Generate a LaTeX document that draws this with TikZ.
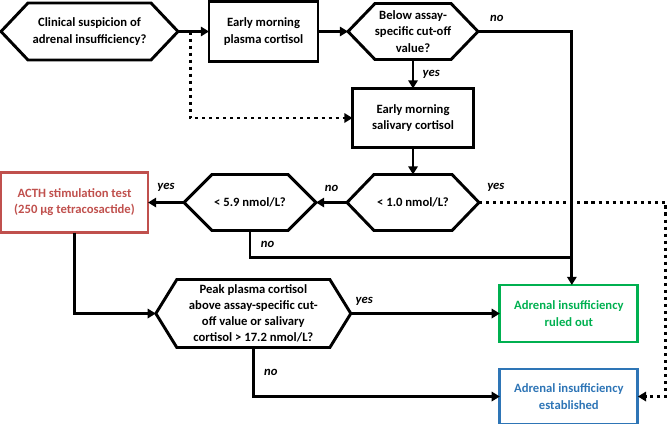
\documentclass[tikz,border=0pt]{standalone}
\usepackage{fontspec}
\setmainfont{Carlito}
\usetikzlibrary{arrows.meta, positioning, calc}

\definecolor{acthred}{HTML}{C0504D}
\definecolor{outgreen}{HTML}{00B050}
\definecolor{estblue}{HTML}{2E75B6}

% hexagonal decision frame round a node: #1 node name, #2 bevel width
\newcommand{\hexframe}[2]{%
  \draw[frame] (#1.west) -- ([xshift=#2]#1.north west) -- ([xshift=-#2]#1.north east)
    -- (#1.east) -- ([xshift=-#2]#1.south east) -- ([xshift=#2]#1.south west) -- cycle;}

\begin{document}
\begin{tikzpicture}[
    x=0.03cm, y=-0.03cm,
    font=\fontsize{10.8}{13.8}\selectfont\bfseries,
    hexq/.style={align=center, inner sep=0pt, outer sep=0pt, minimum height=1.68cm},
    block/.style={rectangle, draw, line width=2.5pt, align=center, inner sep=0pt, outer sep=0pt, minimum height=1.8cm},
    frame/.style={line width=2.5pt, line join=miter},
    link/.style={line width=2.5pt},
    arrow/.style={link, -{Triangle[length=7pt, width=8pt]}},
    dotarrow/.style={arrow, dash pattern=on 2.6pt off 3.4pt},
    lbl/.style={font=\fontsize{10.8}{13.8}\selectfont\bfseries\itshape, inner sep=0pt}
]
    \useasboundingbox (0,0) rectangle (669,424);

    \node[hexq, minimum width=5.31cm, minimum height=1.71cm] (clin) at (89.5,31.5) {Clinical suspicion of\\adrenal insufficiency?};
    \node[block, minimum width=3.27cm, right=0.93cm of clin] (plasma) {Early morning\\plasma cortisol};
    \node[hexq, minimum width=3.9cm, right=0.9cm of plasma] (cutoff) {Below assay-\\specific cut-off\\value?};
    \node[block, minimum width=3.63cm, minimum height=1.77cm, below=0.87cm of cutoff] (saliva) {Early morning\\salivary cortisol};
    \node[hexq, minimum width=3.96cm, below=0.81cm of saliva] (lowone) {< 1.0 nmol/L?};
    \node[hexq, minimum width=3.96cm, left=0.93cm of lowone] (lowfive) {< 5.9 nmol/L?};
    \node[block, draw=acthred, text=acthred, minimum width=4.41cm, left=1.08cm of lowfive] (acth) {ACTH stimulation test\\(250 µg tetracosactide)};
    \node[hexq, minimum width=5.85cm, minimum height=2.04cm, below=1.47cm of lowfive, xshift=0.1cm] (peak) {Peak plasma cortisol\\above assay-specific cut-\\off value or salivary\\cortisol > 17.2 nmol/L?};
    \node[block, draw=outgreen, text=outgreen, minimum width=4.14cm, minimum height=1.71cm, right=4.47cm of peak] (ruledout) {Adrenal insufficiency\\ruled out};
    \node[block, draw=estblue, text=estblue, minimum width=4.14cm, minimum height=1.65cm, below=0.81cm of ruledout] (established) {Adrenal insufficiency\\established};

    \hexframe{clin}{0.81cm}
    \hexframe{cutoff}{0.81cm}
    \hexframe{lowone}{0.81cm}
    \hexframe{lowfive}{0.84cm}
    \hexframe{peak}{0.63cm}

    \coordinate (split) at ($(clin.east)!0.39!(plasma.west)$);
    \coordinate (drop) at ([xshift=0.09cm]ruledout.north);
    \coordinate (merge) at ([yshift=-0.81cm]lowfive.south -| drop);
    \coordinate (rim) at ([xshift=0.84cm]established.east |- lowone.east);

    \draw[arrow] (clin) -- (plasma);
    \draw[arrow] (plasma) -- (cutoff);
    \draw[arrow] (cutoff.east) -| node[lbl, pos=0.1, above=7pt] {no} (drop);
    \draw[arrow] (cutoff) -- node[lbl, right=7pt] {yes} (saliva);
    \draw[dotarrow] (split) |- (saliva);
    \draw[arrow] (saliva) -- (lowone);
    \draw[arrow] (lowone) -- node[lbl, above=8pt] {no} (lowfive);
    \draw[arrow] (lowfive) -- node[lbl, above=8pt] {yes} (acth);
    \draw[link] (lowfive.south) |- node[lbl, pos=0.25, right=8pt] {no} (merge);
    \draw[dotarrow] (lowone.east) -- node[lbl, pos=0.09, above=8pt] {yes} (rim) |- (established.east);
    \draw[arrow] (acth.south) |- (peak.west);
    \draw[arrow] (peak) -- node[lbl, pos=0.09, above=6pt] {yes} (ruledout);
    \draw[arrow] (peak.south) |- node[lbl, pos=0.25, right=8pt] {no} (established.west);
\end{tikzpicture}
\end{document}
